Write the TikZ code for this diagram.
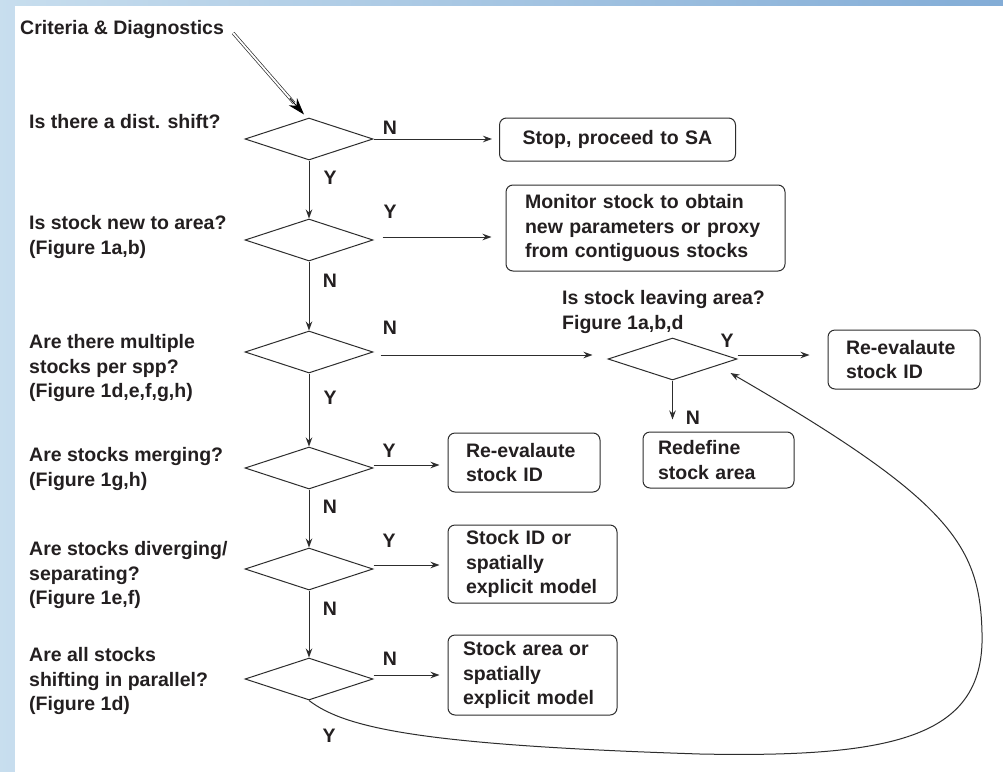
\documentclass[tikz,border=0pt]{standalone}
\usepackage{fontspec}
\setmainfont{Liberation Sans}
\usetikzlibrary{shapes,arrows,arrows.meta,positioning,calc}
\definecolor{ink}{RGB}{35,31,32}
\definecolor{edge}{RGB}{45,45,45}
\definecolor{slideL}{RGB}{200,222,238}
\definecolor{slideR}{RGB}{130,172,214}

\begin{document}
\begin{tikzpicture}[x=1pt,y=-1pt,font=\fontsize{19.5}{24.5}\selectfont\bfseries,text=ink]
        % Define styles
        \tikzstyle{decision} = [diamond, draw=edge, line width=1pt,
            minimum width=128pt, minimum height=42pt, inner sep=0pt]
        \tikzstyle{block} = [rectangle, draw=edge, line width=1pt,
            rounded corners=7pt, align=left, inner ysep=0pt]
        \tikzstyle{question} = [anchor=west, align=left, inner sep=0pt]
        \tikzstyle{yn} = [inner sep=0pt]
        \tikzstyle{arrow} = [line width=1pt, draw=edge, -{Stealth[length=9pt,width=6.5pt]}]

        % Slide background
        \useasboundingbox (0,0) rectangle (1003,771);
        \fill [left color=slideL, right color=slideR] (-5,-5) rectangle (1010,780);
        \fill [white] (15,6) rectangle (1010,780);

        % Decisions
        \node [decision] (d1) at (309,139) {};
        \node [decision] (d2) at (309,240) {};
        \node [decision] (d3) at (309,352) {};
        \node [decision] (d4) at (309,468) {};
        \node [decision] (d5) at (309,569) {};
        \node [decision] (d6) at (309,679) {};
        \node [decision, minimum width=129pt] (d7) at (672.5,359) {};

        % Questions
        \node [question] (crit) at (20,30) {Criteria \& Diagnostics};
        \node [question] (q1) at (29,122) {Is there a dist. shift?};
        \node [question] (q2) at (29,237) {Is stock new to area?\\(Figure 1a,b)};
        \node [question] (q3) at (29,368) {Are there multiple\\stocks per spp?\\(Figure 1d,e,f,g,h)};
        \node [question] (q4) at (29,469) {Are stocks merging?\\(Figure 1g,h)};
        \node [question] (q5) at (29,575) {Are stocks diverging/\\separating?\\(Figure 1e,f)};
        \node [question] (q6) at (29,681) {Are all stocks\\shifting in parallel?\\(Figure 1d)};
        \node [question] (q7) at (562,312) {Is stock leaving area?\\Figure 1a,b,d};

        % Outcomes
        \node [block, align=center, text width=236pt, inner xsep=0pt,
            minimum height=43pt] (stop) at (617.5,139.5) {Stop, proceed to SA};
        \node [block, text width=241pt, inner xsep=19pt, minimum height=86pt]
            (monitor) at (645.5,228) {Monitor stock to obtain\\new parameters or proxy\\from contiguous stocks};
        \node [block, text width=116pt, inner xsep=18pt, minimum height=59pt]
            (reidR) at (904,359.5) {Re-evalaute\\stock ID};
        \node [block, text width=121pt, inner xsep=15pt, minimum height=56pt]
            (redefine) at (718.5,460) {Redefine\\stock area};
        \node [block, text width=116pt, inner xsep=18pt, minimum height=59pt]
            (reidL) at (524,462.5) {Re-evalaute\\stock ID};
        \node [block, text width=133pt, inner xsep=18pt, minimum height=78pt]
            (stockid) at (532.5,564) {Stock ID or\\spatially\\explicit model};
        \node [block, text width=139pt, inner xsep=15pt, minimum height=80pt]
            (stockarea) at (532.5,675) {Stock area or\\spatially\\explicit model};

        % Y/N labels
        \node [yn] (n1) at (390,128) {N};
        \node [yn] (y1) at (330,178) {Y};
        \node [yn] (y2) at (390,212) {Y};
        \node [yn] (n2) at (330,281) {N};
        \node [yn] (n3) at (390,328) {N};
        \node [yn] (y3) at (330,398) {Y};
        \node [yn] (y4) at (389,451) {Y};
        \node [yn] (n4) at (330,507) {N};
        \node [yn] (y5) at (389,541) {Y};
        \node [yn] (n5) at (330,609) {N};
        \node [yn] (n6) at (390,659) {N};
        \node [yn] (y6) at (329,736) {Y};
        \node [yn] (y7) at (727,341) {Y};
        \node [yn] (n7) at (693,418) {N};

        % Arrows
        \coordinate (start) at ($(crit.east)+(9,3)$);
        \coordinate (tip) at ($(d1.north)+(-5,-3)$);
        \draw [double, double distance=1.8pt, line width=0.7pt, draw=edge]
            (start) -- ($(start)!0.86!(tip)$);
        \draw [draw=black, fill=black, line width=0.8pt, -{Stealth[length=17pt,width=11pt]}]
            ($(start)!0.8!(tip)$) -- (tip);
        \draw [arrow] (d1.south) -- (d2.north);
        \draw [arrow] (d2.south) -- (d3.north);
        \draw [arrow] (d3.south) -- (d4.north);
        \draw [arrow] (d4.south) -- (d5.north);
        \draw [arrow] (d5.south) -- (d6.north);
        \draw [arrow] (d1.east) -- ($(d1.east -| stop.west)+(-7,0)$);
        \draw [arrow] ($(d2.east)+(9,-3)$) -- ($(d2.east -| monitor.west)+(-14,-3)$);
        \draw [arrow] ($(d3.east)+(7,3)$) -- ($(d3.east -| d7.west)+(-15,3)$);
        \draw [arrow] ($(d4.east)+(0,-3)$) -- ($(d4.east -| reidL.west)+(-8,-3)$);
        \draw [arrow] ($(d5.east)+(0,-4)$) -- ($(d5.east -| stockid.west)+(-8,-4)$);
        \draw [arrow] ($(d6.east)+(0,-4)$) -- ($(d6.east -| stockarea.west)+(-8,-4)$);
        \draw [arrow] ($(d7.east)+(0,-4)$) -- ($(d7.east -| reidR.west)+(-18,-4)$);
        \draw [arrow] (d7.south) -- ($(d7.south |- redefine.north)+(0,-12)$);

        % Loop back from parallel shift
        \draw [arrow] (d6.south) .. controls (345,728) and (420,745) .. (700,754)
            .. controls (900,758) and (985,735) .. (982,633)
            .. controls (980,545) and (950,500) .. ($(d7.east)+(-7,14)$);
    \end{tikzpicture}
\end{document}
